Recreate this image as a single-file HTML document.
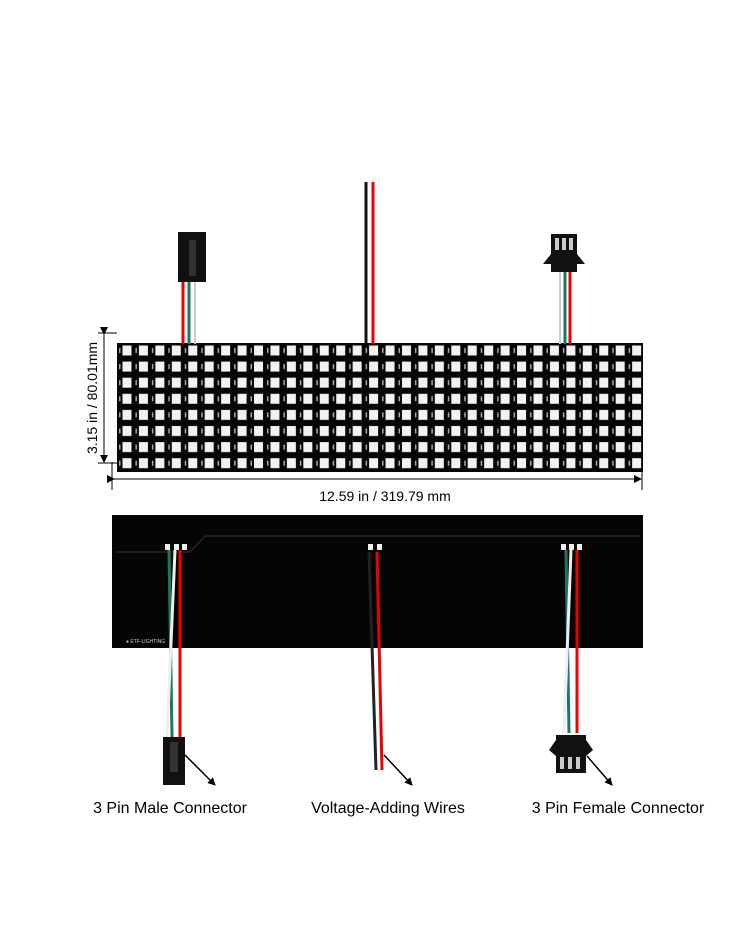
<!DOCTYPE html>
<html><head><style>
html,body{margin:0;padding:0;background:#fff;}
svg{display:block;}
text{font-family:"Liberation Sans",sans-serif;}
</style></head><body>
<svg width="750" height="930" viewBox="0 0 750 930" xmlns="http://www.w3.org/2000/svg">
<defs>
<pattern id="led" x="117" y="343" width="16.44" height="16.1" patternUnits="userSpaceOnUse">
<rect width="16.44" height="16.1" fill="#050505"/>
<rect x="5.5" y="2.5" width="9" height="10" fill="#f2f2f2"/>
<rect x="2" y="5" width="1.5" height="5" fill="#aaa"/>
</pattern>
<marker id="ah" markerWidth="8" markerHeight="8" refX="7" refY="4" orient="auto" markerUnits="userSpaceOnUse"><path d="M0,0 L8,4 L0,8 z" fill="#000"/></marker>
</defs>
<rect x="117" y="343" width="526" height="129" fill="url(#led)"/>
<line x1="366" y1="182" x2="366" y2="344" stroke="#111" stroke-width="3"/>
<line x1="373" y1="182" x2="373" y2="344" stroke="#e00" stroke-width="3"/>
<line x1="183" y1="282" x2="183" y2="344" stroke="#e00" stroke-width="3"/>
<line x1="189" y1="282" x2="189" y2="344" stroke="#1a7a60" stroke-width="3"/>
<line x1="195" y1="282" x2="195" y2="344" stroke="#ccc" stroke-width="2"/>
<rect x="178" y="232" width="28" height="50" fill="#111"/>
<rect x="189" y="240" width="7" height="36" fill="#333"/>
<line x1="560" y1="272" x2="560" y2="344" stroke="#ccc" stroke-width="2"/>
<line x1="565" y1="272" x2="565" y2="344" stroke="#1a7a60" stroke-width="3"/>
<line x1="570" y1="272" x2="570" y2="344" stroke="#e00" stroke-width="3"/>
<rect x="551" y="234" width="26" height="38" fill="#111"/>
<rect x="555" y="238" width="4" height="12" fill="#ccc"/><rect x="562" y="238" width="4" height="12" fill="#ccc"/><rect x="569" y="238" width="4" height="12" fill="#ccc"/>
<path d="M551,254 l-8,10 l8,0z M577,254 l8,10 l-8,0z" fill="#111"/>
<line x1="104" y1="334" x2="104" y2="462" stroke="#000" stroke-width="1" marker-start="url(#ah)" marker-end="url(#ah)"/>
<line x1="98" y1="333" x2="117" y2="333" stroke="#000"/>
<line x1="98" y1="463" x2="117" y2="463" stroke="#000"/>
<line x1="112" y1="462" x2="112" y2="490" stroke="#000"/>
<line x1="642" y1="462" x2="642" y2="490" stroke="#000"/>
<line x1="114" y1="479" x2="641" y2="479" stroke="#000" marker-start="url(#ah)" marker-end="url(#ah)"/>
<text x="97" y="398" font-size="14" text-anchor="middle" transform="rotate(-90 97 398)">3.15 in / 80.01mm</text>
<text x="385" y="501" font-size="14" text-anchor="middle">12.59 in / 319.79 mm</text>
<rect x="112" y="515" width="531" height="133" fill="#050505"/>
<path d="M115,552 L190,552 L205,536 L640,536" stroke="#333" fill="none"/>
<rect x="165" y="544" width="5" height="6" fill="#eee"/><rect x="174" y="544" width="5" height="6" fill="#eee"/><rect x="182" y="544" width="5" height="6" fill="#eee"/>
<rect x="368" y="544" width="5" height="6" fill="#eee"/><rect x="377" y="544" width="5" height="6" fill="#eee"/>
<rect x="561" y="544" width="5" height="6" fill="#eee"/><rect x="569" y="544" width="5" height="6" fill="#eee"/><rect x="577" y="544" width="5" height="6" fill="#eee"/>
<text x="126" y="643" font-size="5" fill="#ccc">● ETF-LIGHTING</text>
<path d="M169,550 L172,737" stroke="#1a7a60" stroke-width="3"/>
<path d="M175,550 L167,737" stroke="#eee" stroke-width="3"/>
<path d="M180,550 L180,737" stroke="#e00" stroke-width="3"/>
<path d="M369,552 L376,770" stroke="#222" stroke-width="3"/>
<path d="M377,552 L382,770" stroke="#e00" stroke-width="3"/>
<path d="M566,550 L569,733" stroke="#1a7a60" stroke-width="3"/>
<path d="M571,550 L564,733" stroke="#eee" stroke-width="3"/>
<path d="M577,550 L577,733" stroke="#e00" stroke-width="3"/>
<rect x="163" y="737" width="22" height="48" fill="#111"/>
<rect x="170" y="742" width="8" height="30" fill="#333"/>
<rect x="556" y="735" width="30" height="38" fill="#111"/>
<rect x="560" y="757" width="4" height="12" fill="#ccc"/><rect x="568" y="757" width="4" height="12" fill="#ccc"/><rect x="576" y="757" width="4" height="12" fill="#ccc"/>
<path d="M556,740 l-7,10 l7,6z M586,740 l7,10 l-7,6z" fill="#111"/>
<line x1="185" y1="755" x2="215" y2="785" stroke="#000" stroke-width="1.5" marker-end="url(#ah)"/>
<line x1="384" y1="755" x2="412" y2="785" stroke="#000" stroke-width="1.5" marker-end="url(#ah)"/>
<line x1="587" y1="756" x2="612" y2="785" stroke="#000" stroke-width="1.5" marker-end="url(#ah)"/>
<text x="170" y="813" font-size="16" text-anchor="middle">3 Pin Male Connector</text>
<text x="388" y="813" font-size="16" text-anchor="middle">Voltage-Adding Wires</text>
<text x="618" y="813" font-size="16" text-anchor="middle">3 Pin Female Connector</text>
</svg>
</body></html>
